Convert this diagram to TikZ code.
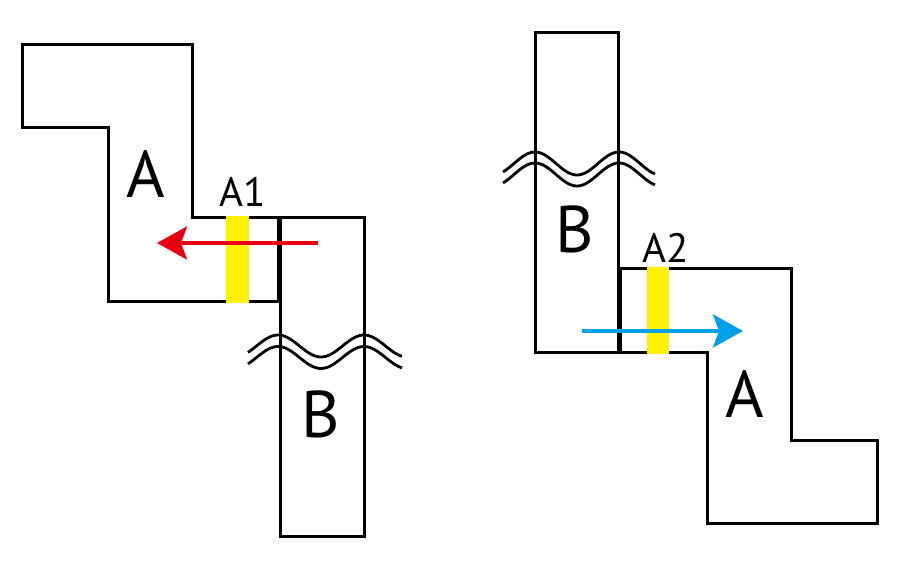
\documentclass[tikz,border=0pt]{standalone}
\usepackage{fontspec}
\setmainfont{PT Sans}
\usetikzlibrary{arrows.meta}
\definecolor{myred}{HTML}{E60012}
\definecolor{myblue}{HTML}{00A0E9}
\definecolor{myyellow}{HTML}{FFF100}
\begin{document}
\begin{tikzpicture}[x=1pt,y=-1pt,
  outline/.style={draw=black,line width=3pt,fill=white,line join=miter},
  band/.style={fill=myyellow,draw=none},
  flowarrow/.style={line width=4pt,-{Stealth[length=30pt,width=33pt,inset=6pt]}},
  wave/.style={draw=black,line width=2.8pt,smooth},
  biglabel/.style={font=\fontsize{66}{66}\selectfont,inner sep=0pt,anchor=base},
  smalllabel/.style={font=\fontsize{41}{41}\selectfont,inner sep=0pt,anchor=base}]
\useasboundingbox (0,0) rectangle (898,575);
% ---------- left figure ----------
\draw[outline] (22,45) -- (192,45) -- (192,217.5) -- (278,217.5) -- (278,301.5) -- (108,301.5) -- (108,128) -- (22,128) -- cycle;
\draw[outline] (280.5,217.5) rectangle (364,536);
\fill[band] (226,216) rectangle (249,303);
\coordinate (r1) at (318,243);
\coordinate (r2) at (157,243);
\draw[flowarrow,draw=myred,fill=myred] (r1) -- (r2);
\draw[wave] plot[domain=248:402,samples=80] ({\x},{346-11*cos(4.18605*(\x-278))});
\draw[wave] plot[domain=248:402,samples=80] ({\x},{357.5-11*cos(4.18605*(\x-278))});
\node[biglabel] (la) at (145.5,198) {A};
\node[biglabel] (lb) at (321,437) {B};
\node[smalllabel] (la1) at (243,207) {A1};
% ---------- right figure ----------
\draw[outline] (535,33) rectangle (618,352);
\draw[outline] (620.5,268.5) -- (791,268.5) -- (791,440) -- (877,440) -- (877,523) -- (707,523) -- (707,352) -- (620.5,352) -- cycle;
\fill[band] (647,267) rectangle (669,353.5);
\coordinate (b1) at (582,331);
\coordinate (b2) at (743,331);
\draw[flowarrow,draw=myblue,fill=myblue] (b1) -- (b2);
\draw[wave] plot[domain=503:655,samples=80] ({\x},{163.5-11.5*cos(4.28571*(\x-535))});
\draw[wave] plot[domain=503:655,samples=80] ({\x},{174.5-11.5*cos(4.28571*(\x-535))});
\node[biglabel] (rb) at (574.5,253) {B};
\node[biglabel] (ra) at (744.5,417) {A};
\node[smalllabel] (ra2) at (666,262) {A2};
\end{tikzpicture}
\end{document}
